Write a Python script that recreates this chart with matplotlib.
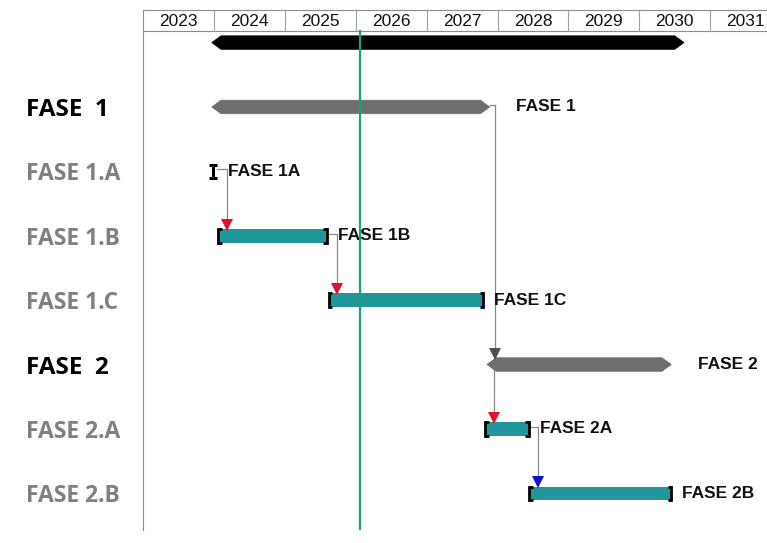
import numpy as np
import matplotlib.pyplot as plt
from matplotlib.patches import Polygon

# row labels on the left (row 0 at the top)
row_labels = ["FASE  1", "FASE 1.A", "FASE 1.B", "FASE 1.C", "FASE  2", "FASE 2.A", "FASE 2.B"]
row_is_summary = [True, False, False, False, True, False, False]

# tasks: name, row, start, end (in years)
task_names = ["FASE 1A", "FASE 1B", "FASE 1C", "FASE 2A", "FASE 2B"]
task_rows = [1, 2, 3, 5, 6]
task_start = [2023.93, 2024.06, 2025.62, 2027.83, 2028.45]
task_end = [2024.04, 2025.59, 2027.80, 2028.44, 2030.45]

# summary bars (row -1 is the whole project)
summary_names = ["", "FASE 1", "FASE 2"]
summary_rows = [-1, 0, 4]
summary_start = [2023.97, 2023.97, 2027.85]
summary_end = [2030.63, 2027.89, 2030.45]
summary_colors = ["black", "#6e6e6e", "#6e6e6e"]

# links: predecessor row/end -> successor row/start
link_from_row = [1, 2, 0, 4, 5]
link_from_x = [2024.04, 2025.59, 2027.89, 2027.95, 2028.44]
link_to_row = [2, 3, 4, 5, 6]
link_to_x = [2024.18, 2025.74, 2027.97, 2027.95, 2028.57]
link_colors = ["#e3102a", "#e3102a", "#4d4d4d", "#e3102a", "#1010d8"]

years = list(range(2023, 2032))
today = 2026.06

teal = "#21969b"
h = 0.21

fig = plt.figure(figsize=(7.67, 5.43), dpi=100)
ax = fig.add_axes([143 / 767, 1 - 530 / 543, 624 / 767, 520 / 543])
ax.set_xlim(2023.0, 2031.8)
ax.set_ylim(6.57, -1.506)

# header with years
hdr_bottom = -1.18
ax.axhline(hdr_bottom, color="#8c8c8c", lw=0.8)
for y in years[1:]:
    ax.plot([y, y], [-1.506, hdr_bottom], color="#a0a0a0", lw=0.8)
for y in years:
    ax.text(y + 0.5, (hdr_bottom - 1.506) / 2 + 0.01, str(y), ha="center", va="center",
            fontsize=12.5, family="Liberation Sans", color="#111111")

# today line
ax.axvline(today, ymin=0, ymax=1 - (hdr_bottom + 1.506) / (6.57 + 1.506),
           color="#1aa37a", lw=1.6, zorder=5)

# links
for fr, fx, tr, tx, c in zip(link_from_row, link_from_x, link_to_row, link_to_x, link_colors):
    if abs(fx - tx) > 1e-6:
        ax.plot([fx, tx], [fr - 0.03, fr - 0.03], color="#8a8a8a", lw=0.9, zorder=2)
    ax.plot([tx, tx], [fr - 0.03 if fx != tx else fr, tr - 0.2], color="#8a8a8a", lw=0.9, zorder=2)
    ax.plot(tx, tr - 0.17, marker="v", color=c, markersize=8, zorder=4, markeredgewidth=0)

# summary bars
tip = 0.13
for name, r, s, e, c in zip(summary_names, summary_rows, summary_start, summary_end, summary_colors):
    pts = [(s, r), (s + tip, r - h / 2), (e - tip, r - h / 2), (e, r),
           (e - tip, r + h / 2), (s + tip, r + h / 2)]
    ax.add_patch(Polygon(pts, closed=True, facecolor=c, edgecolor=c, lw=0.5, zorder=3))
    if name:
        ax.annotate(name, (e, r), xytext=(19, 0), textcoords="offset points",
                    ha="left", va="center", fontsize=12.5, fontweight="bold",
                    family="Liberation Sans", color="#111111")

# task bars with bracket ends
cap = 0.05
for name, r, s, e in zip(task_names, task_rows, task_start, task_end):
    top, bot = r - h / 2, r + h / 2
    if e - s <= 2 * cap + 0.02:
        # very short task: drawn as an "I"
        ax.plot([s, e], [top, top], color="black", lw=2.2, zorder=4, solid_capstyle="butt")
        ax.plot([s, e], [bot, bot], color="black", lw=2.2, zorder=4, solid_capstyle="butt")
        ax.plot([(s + e) / 2] * 2, [top, bot], color="black", lw=2.2, zorder=4)
    else:
        ax.barh(r, e - s, left=s, height=h, color=teal, zorder=3)
        for x0, x1 in [(s, s + cap), (e - cap, e)]:
            ax.plot([x0, x1], [top, top], color="black", lw=2, zorder=4, solid_capstyle="butt")
            ax.plot([x0, x1], [bot, bot], color="black", lw=2, zorder=4, solid_capstyle="butt")
        ax.plot([s, s], [top, bot], color="black", lw=2, zorder=4)
        ax.plot([e, e], [top, bot], color="black", lw=2, zorder=4)
    ax.annotate(name, (e, r), xytext=(8, 0), textcoords="offset points",
                ha="left", va="center", fontsize=12.5, fontweight="bold",
                family="Liberation Sans", color="#111111")

# left labels, left aligned near the figure edge
ax.set_yticks(range(len(row_labels)))
ax.set_yticklabels(row_labels)
for lbl, summ in zip(ax.get_yticklabels(), row_is_summary):
    lbl.set_fontfamily("Open Sans")
    lbl.set_fontweight("bold")
    lbl.set_fontsize(17.5 if summ else 16.5)
    lbl.set_color("black" if summ else "#808080")
    lbl.set_horizontalalignment("left")
ax.tick_params(axis="y", length=0, pad=84)
ax.set_xticks([])

for side in ["right", "bottom"]:
    ax.spines[side].set_visible(False)
ax.spines["left"].set_color("#8c8c8c")
ax.spines["top"].set_color("#8c8c8c")
ax.spines["left"].set_linewidth(0.8)
ax.spines["top"].set_linewidth(0.8)

fig.savefig("out.png", dpi=100)
